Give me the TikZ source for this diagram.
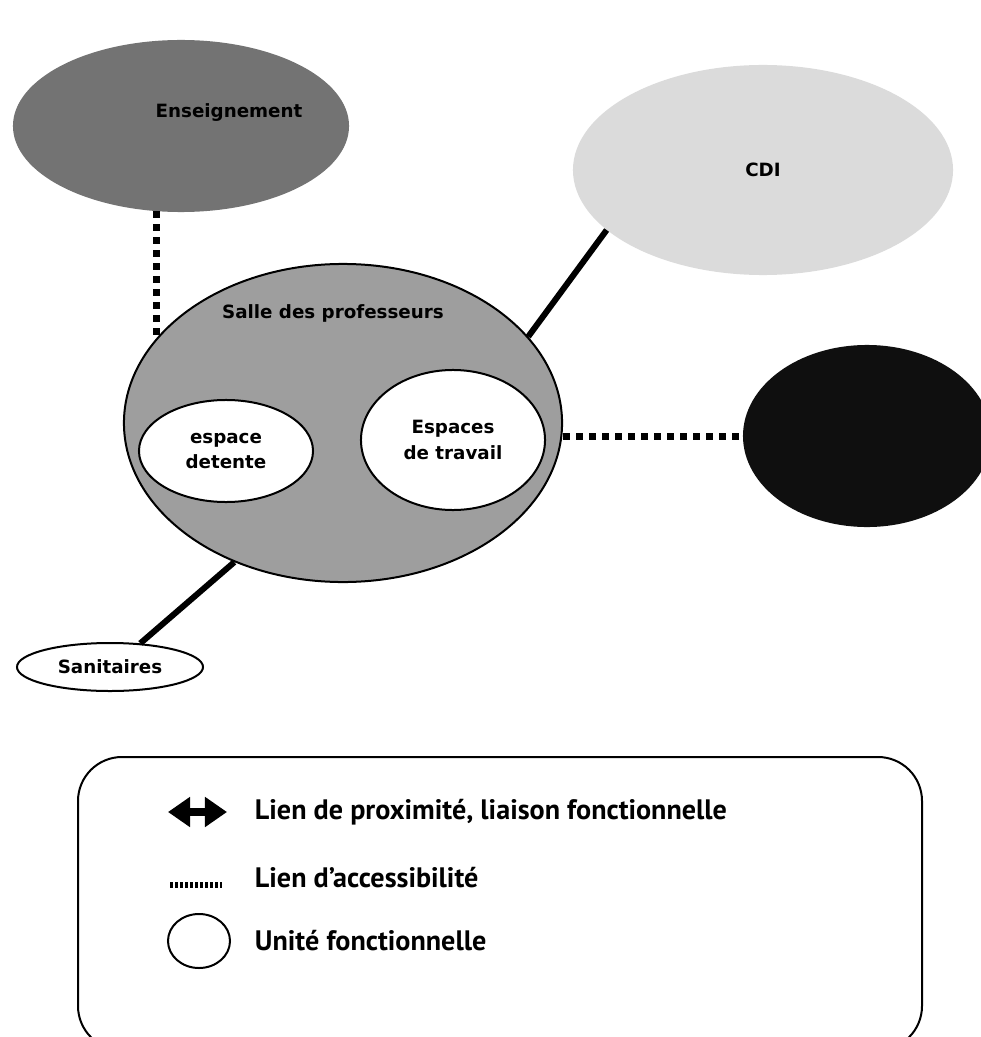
\documentclass[tikz,border=0pt]{standalone}
\usepackage{fontspec}
\setmainfont{DejaVu Sans}
\newfontfamily\legfont{PT Sans}
\usetikzlibrary{shapes,arrows.meta,positioning,calc}

\begin{document}
\begin{tikzpicture}[
    x=0.025cm, y=-0.025cm,
    unit/.style={ellipse, inner sep=0pt, font=\bfseries\fontsize{13}{18}\selectfont, align=center},
    inner/.style={unit, draw, line width=0.05cm, fill=white},
    link/.style={line width=0.15cm},
    access/.style={line width=0.175cm, dash pattern=on 0.175cm off 0.15cm},
    legtext/.style={anchor=west, font=\legfont\bfseries\fontsize{20}{24}\selectfont}
]
\useasboundingbox (0,0) rectangle (980,1037);

\node (ens) [unit, fill=black!55, minimum width=8.4cm, minimum height=4.3cm,
    label={[xshift=1.2cm, yshift=0.325cm, font=\bfseries\fontsize{13}{18}\selectfont]center:Enseignement}] at (181,126) {};
\node (cdi) [unit, fill=black!14, minimum width=9.5cm, minimum height=5.25cm] at (763,170) {CDI};
\node (salle) [unit, draw, line width=0.05cm, fill=black!38, minimum width=10.95cm, minimum height=7.95cm,
    label={[xshift=-0.25cm, yshift=2.75cm, font=\bfseries\fontsize{13}{18}\selectfont]center:Salle des professeurs}] at (343,423) {};
\node (detente) [inner, minimum width=4.35cm, minimum height=2.55cm] at (226,451) {espace\\detente};
\node (travail) [inner, minimum width=4.6cm, minimum height=3.5cm] at (453,440) {Espaces\\de travail};
\node (admin) [unit, fill=black!94, minimum width=6.2cm, minimum height=4.55cm] at (867,436) {};
\node (sanit) [inner, minimum width=4.65cm, minimum height=1.2cm] at (110,667) {Sanitaires};

% Liens
\draw[access] (ens.254) -- (ens.254 |- salle.155);
\draw[link] (salle.25) -- (cdi.201);
\draw[access] (salle.east |- admin.west) -- (admin.west);
\draw[link] (salle.232) -- (sanit.38);

% Legende
\draw[line width=0.05cm, rounded corners=1.1cm] (78,757) rectangle (922,1050);
\coordinate (arl) at (168,812);
\coordinate (arr) at (227,812);
\draw[line width=0.2cm, {Triangle[length=0.55cm,width=0.72cm]}-{Triangle[length=0.55cm,width=0.72cm]}] (arl) -- (arr);
\coordinate (dtl) at (170,885);
\coordinate (dtr) at (222,885);
\draw[line width=0.13cm, dash pattern=on 0.07cm off 0.055cm] (dtl) -- (dtr);
\node (unitico) [ellipse, draw, line width=0.05cm, minimum width=1.55cm, minimum height=1.35cm, inner sep=0pt] at (199,941) {};
\node (legprox) [legtext] at (250,812) {Lien de proximité, liaison fonctionnelle};
\node (legacc) [legtext] at (250,878) {Lien d’accessibilité};
\node (legunit) [legtext] at (250,941) {Unité fonctionnelle};

\end{tikzpicture}
\end{document}
